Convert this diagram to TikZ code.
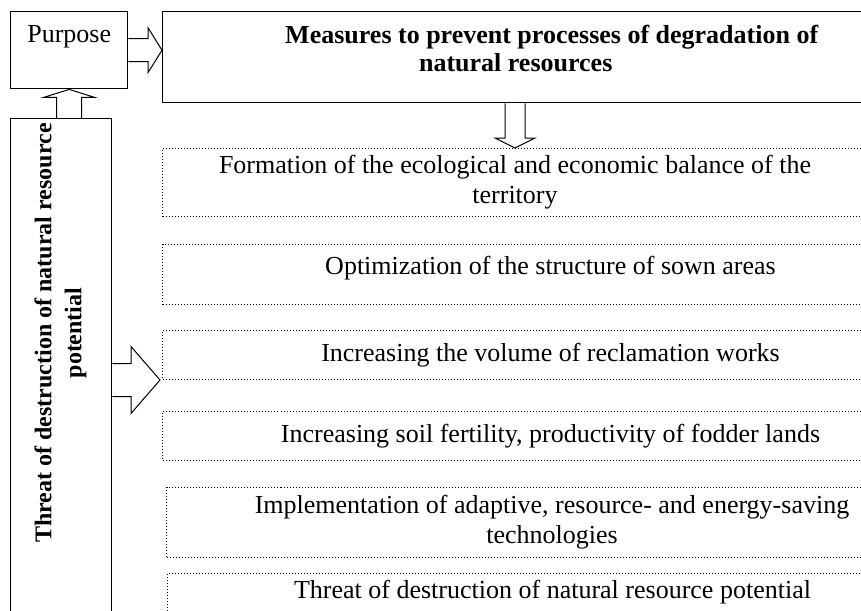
\documentclass[tikz,border=0pt]{standalone}
\usepackage{fontspec}
\setmainfont{Liberation Serif}
\usetikzlibrary{positioning,calc}

\begin{document}
\begin{tikzpicture}[
  x=0.5pt, y=-0.5pt,
  font=\fontsize{13}{15}\selectfont,
  solidbox/.style={draw, line width=0.7pt, anchor=north west},
  stepbox/.style={draw, densely dotted, line width=0.5pt, anchor=north west, align=center, minimum width=388pt},
  toptext/.style={anchor=north, inner sep=0pt, yshift=-7pt, align=center},
  blockarrow/.style={draw, line width=0.5pt}
]
  \useasboundingbox (0,0) rectangle (861,610);
  \clip (0,0) rectangle (861,610);

  % boxes with solid frame
  \node[solidbox, minimum width=58.5pt, minimum height=38.5pt,
        label={[toptext]north:Purpose}] (purpose) at (10,11) {};
  \node[solidbox, minimum width=353pt, minimum height=45.5pt,
        label={[toptext, font=\fontsize{13}{14}\selectfont\bfseries]north:\hspace*{36pt}Measures to prevent processes of degradation of\\natural resources}] (measures) at (162,11) {};
  \node[solidbox, minimum width=50.5pt, minimum height=251pt] (threat) at (10,118) {};
  \node[rotate=90, align=center, font=\fontsize{12}{15}\selectfont\bfseries] (threattext) at (60.5,333)
    {Threat of destruction of natural resource\\potential};

  % dotted column of measures
  \node[stepbox, minimum width=352.5pt, minimum height=34pt] (formation) at (162,148)
    {Formation of the ecological and economic balance of the\\territory};
  \node[stepbox, minimum height=30pt, text depth=9pt, below=13.5pt of formation.south west, anchor=north west] (sown)
    {Optimization of the structure of sown areas};
  \node[stepbox, minimum height=24.5pt, below=12.5pt of sown.south west, anchor=north west] (reclamation)
    {Increasing the volume of reclamation works};
  \node[stepbox, minimum height=24.5pt, below=15.5pt of reclamation.south west, anchor=north west] (fertility)
    {Increasing soil fertility, productivity of fodder lands};
  \node[stepbox, minimum width=385.5pt, minimum height=35pt, below=13pt of fertility.south west, anchor=north west, xshift=2pt] (technologies)
    {Implementation of adaptive, resource- and energy-saving\\technologies};
  \node[stepbox, minimum width=385pt, minimum height=24pt, text depth=9pt, below=7.5pt of technologies.south west, anchor=north west, xshift=0.5pt] (potential)
    {Threat of destruction of natural resource potential};

  % hollow block arrows
  \coordinate (tipA) at (purpose.east -| measures.west);
  \draw[blockarrow] ($(purpose.east)+(0,-11.5)$) -- ($(tipA)+(-14,-11.5)$) -- ($(tipA)+(-14,-22.5)$) -- (tipA)
    -- ($(tipA)+(-14,22.5)$) -- ($(tipA)+(-14,11.5)$) -- ($(purpose.east)+(0,11.5)$);
  \coordinate (tipB) at (purpose.south);
  \draw[blockarrow] ($(tipB |- threat.north)+(-12.5,0)$) -- ($(tipB)+(-12.5,8)$) -- ($(tipB)+(-25.5,8)$) -- (tipB)
    -- ($(tipB)+(25.5,8)$) -- ($(tipB)+(12.5,8)$) -- ($(tipB |- threat.north)+(12.5,0)$);
  \coordinate (tipC) at (formation.north);
  \draw[blockarrow] ($(tipC |- measures.south)+(-10,0)$) -- ($(tipC)+(-10,-10)$) -- ($(tipC)+(-20,-10)$) -- (tipC)
    -- ($(tipC)+(20,-10)$) -- ($(tipC)+(10,-10)$) -- ($(tipC |- measures.south)+(10,0)$);
  \coordinate (tipD) at ($(reclamation.south west)+(-2,0)$);
  \draw[blockarrow] ($(threat.east |- tipD)+(0,-16.5)$) -- ($(tipD)+(-29,-16.5)$) -- ($(tipD)+(-29,-33.5)$) -- (tipD)
    -- ($(tipD)+(-29,33.5)$) -- ($(tipD)+(-29,16.5)$) -- ($(threat.east |- tipD)+(0,16.5)$);
\end{tikzpicture}
\end{document}
